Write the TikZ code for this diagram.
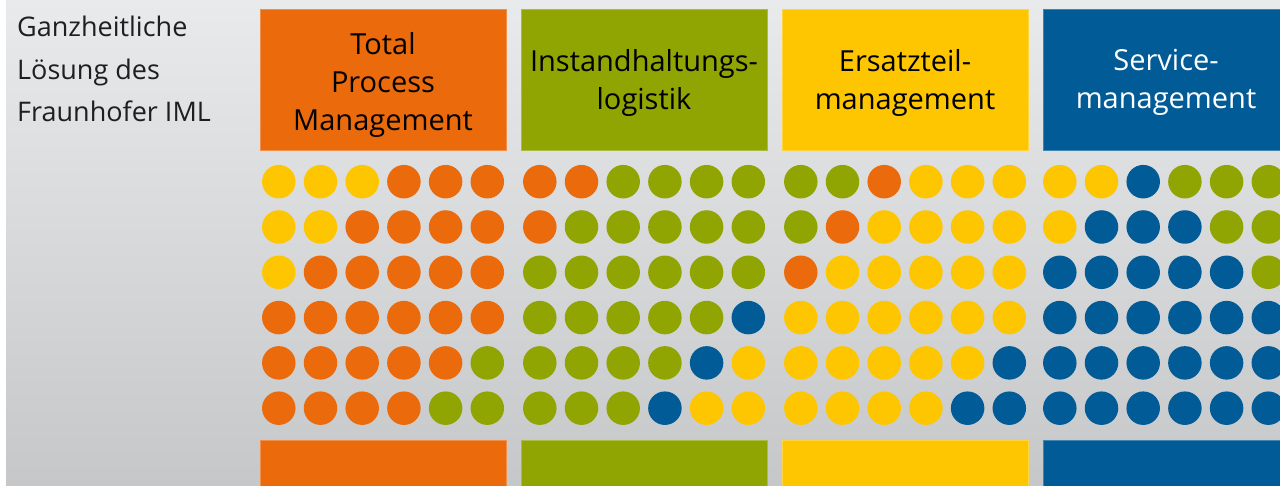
\documentclass[tikz,border=0pt]{standalone}
\usepackage{fontspec}
\setmainfont{Open Sans}

\definecolor{imlorange}{RGB}{234,106,12}
\definecolor{imlgreen}{RGB}{145,165,2}
\definecolor{imlyellow}{RGB}{254,198,0}
\definecolor{imlblue}{RGB}{0,91,150}
\colorlet{cO}{imlorange}
\colorlet{cG}{imlgreen}
\colorlet{cY}{imlyellow}
\colorlet{cB}{imlblue}

\begin{document}
\begin{tikzpicture}[x=1pt, y=1pt,
  pillar/.style={rectangle, fill=#1, draw=#1!75!white, line width=0.8pt,
    minimum width=246pt, minimum height=141pt, inner sep=0pt},
  pillartext/.style={align=center, inner sep=0pt, font=\fontsize{29}{38}\selectfont},
  base/.style={rectangle, fill=#1, draw=#1!75!white, line width=0.8pt,
    minimum width=246pt, minimum height=60pt, inner sep=0pt},
  pip/.style={circle, fill=#1, minimum size=33.5pt, inner sep=0pt}]

\clip (0,0) rectangle (1280,486);

% Background
\fill[white] (0,0) rectangle (1280,486);
\shade[top color={rgb,255:red,233;green,234;blue,235},
       bottom color={rgb,255:red,198;green,199;blue,201}] (6,0) rectangle (1280,486);

% Title
\node[anchor=north west, align=left, inner sep=0pt, text=black!88,
      font=\fontsize{27}{42.5}\selectfont] (title) at (17,470)
  {Ganzheitliche\\L\"osung des\\Fraunhofer IML};

% Top boxes
\node[pillar=imlorange] (tpm) at (383,406.5) {};
\node[pillar=imlgreen] (ihl) at (644,406.5) {};
\node[pillar=imlyellow] (etm) at (905,406.5) {};
\node[pillar=imlblue] (svm) at (1166,406.5) {};

\node[pillartext] (tpm-text) at ([yshift=-5pt]tpm.center) {Total\\Process\\Management};
\node[pillartext] (ihl-text) at ([yshift=-3pt]ihl.center) {Instandhaltungs-\\logistik};
\node[pillartext] (etm-text) at ([yshift=-3pt]etm.center) {Ersatzteil-\\management};
\node[pillartext, text=white] (svm-text) at ([yshift=-3pt]svm.center) {Service-\\management};

% Bottom bars
\node[base=imlorange] (tpm-base) at (383,16) {};
\node[base=imlgreen] (ihl-base) at (644,16) {};
\node[base=imlyellow] (etm-base) at (905,16) {};
\node[base=imlblue] (svm-base) at (1166,16) {};

% Dots, row by row
\foreach \c [count=\n from 0] in {Y,Y,Y,O,O,O, Y,Y,O,O,O,O, Y,O,O,O,O,O,
                                  O,O,O,O,O,O, O,O,O,O,O,G, O,O,O,O,G,G}{
  \pgfmathtruncatemacro\row{\n/6}
  \pgfmathtruncatemacro\col{mod(\n,6)}
  \node[pip=c\c] (tpm-\row-\col) at (278.8+41.7*\col, 304.3-45.3*\row) {};
}
\foreach \c [count=\n from 0] in {O,O,G,G,G,G, O,G,G,G,G,G, G,G,G,G,G,G,
                                  G,G,G,G,G,B, G,G,G,G,B,Y, G,G,G,B,Y,Y}{
  \pgfmathtruncatemacro\row{\n/6}
  \pgfmathtruncatemacro\col{mod(\n,6)}
  \node[pip=c\c] (ihl-\row-\col) at (539.8+41.7*\col, 304.3-45.3*\row) {};
}
\foreach \c [count=\n from 0] in {G,G,O,Y,Y,Y, G,O,Y,Y,Y,Y, O,Y,Y,Y,Y,Y,
                                  Y,Y,Y,Y,Y,Y, Y,Y,Y,Y,Y,B, Y,Y,Y,Y,B,B}{
  \pgfmathtruncatemacro\row{\n/6}
  \pgfmathtruncatemacro\col{mod(\n,6)}
  \node[pip=c\c] (etm-\row-\col) at (800.8+41.7*\col, 304.3-45.3*\row) {};
}
\foreach \c [count=\n from 0] in {Y,Y,B,G,G,G, Y,B,B,B,G,G, B,B,B,B,B,G,
                                  B,B,B,B,B,B, B,B,B,B,B,B, B,B,B,B,B,B}{
  \pgfmathtruncatemacro\row{\n/6}
  \pgfmathtruncatemacro\col{mod(\n,6)}
  \node[pip=c\c] (svm-\row-\col) at (1059.8+41.7*\col, 304.3-45.3*\row) {};
}

\end{tikzpicture}
\end{document}
